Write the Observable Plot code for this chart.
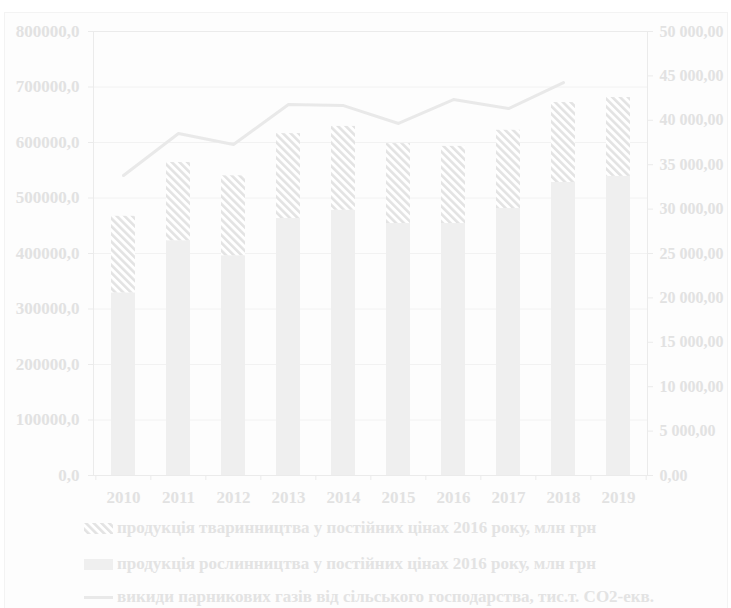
<!DOCTYPE html>
<html><head><meta charset="utf-8">
<script src="https://cdn.jsdelivr.net/npm/d3@7"></script>
<script src="https://cdn.jsdelivr.net/npm/@observablehq/plot@0.6"></script>
<style>
body{margin:0;background:#fff;}
#wrap{position:relative;width:731px;height:608px;overflow:hidden;font-family:"Liberation Serif","Times New Roman",serif;font-weight:bold;color:#e3e3e3;}
#frame{position:absolute;left:4px;top:12px;width:722px;height:600px;border:1px solid #f3f3f3;background:#fdfdfd;}
#chart{position:absolute;left:0;top:0;}
.leg{position:absolute;left:84px;height:20px;font-size:17px;display:flex;align-items:center;white-space:nowrap;}
.sw{width:29px;height:11px;margin-right:4px;}
</style>
</head><body>
<div id="wrap"><div id="frame"></div><div id="chart"></div><div id="legend"></div></div>
<script>
const years = ["2010","2011","2012","2013","2014","2015","2016","2017","2018","2019"];
const plant = [329000,423000,396000,463000,478000,454000,454000,481000,528000,539000];
const animal = [138000,141000,144000,153000,151000,144000,139000,141000,144000,142000];
const emissions = [33780,38510,37270,41770,41660,39640,42340,41320,44250,null];
const leftTicks = [0,100000,200000,300000,400000,500000,600000,700000,800000];
const rightTicks = [0,5000,10000,15000,20000,25000,30000,35000,40000,45000,50000];
const legendLabels = [
  "продукція тваринництва у постійних цінах 2016 року, млн грн",
  "продукція рослинництва у постійних цінах 2016 року, млн грн",
  "викиди парникових газів від сільського господарства, тис.т. CO2-екв."
];

const K = 800000/50000;
const data = years.map((y,i)=>({year:y, plant:plant[i], animal:animal[i], emis:emissions[i]}));
const loc = d3.formatLocale({decimal:",", thousands:"\u00a0", grouping:[3], currency:["",""]});
const fL = loc.format(".1f"), fR = loc.format(",.2f");

const W=731, mL=93, mR=84, mT=31, H=520, mB=45;
const step = (W-mL-mR)/years.length;
const tickLen = 5*800000/(H-mT-mB);

const txt = "#e2e2e2", ax = "#ebebeb";
const plot = Plot.plot({
  width:W, height:H, marginLeft:mL, marginRight:mR, marginTop:mT, marginBottom:mB,
  style:{background:"transparent", color:txt, fontFamily:"'Liberation Serif', serif", fontWeight:"bold", fontSize:"17px", overflow:"visible"},
  x:{domain:years, paddingInner:0.567, paddingOuter:0.283, label:null},
  y:{domain:[0,800000], label:null},
  marks:[
    Plot.gridY({ticks:leftTicks, stroke:"#f2f2f2", strokeOpacity:1}),
    Plot.barY(data,{x:"year", y1:0, y2:"plant", fill:"#efefef"}),
    Plot.barY(data,{x:"year", y1:"plant", y2:d=>d.plant+d.animal, fill:"url(#hatch)"}),
    Plot.line(data.filter(d=>d.emis!=null),{x:"year", y:d=>d.emis*K, stroke:"#e9e9e9", strokeWidth:3}),
    Plot.ruleX(years,{x:d=>d, dx:-step/2, y1:0, y2:-tickLen, stroke:ax}),
    Plot.ruleX([years[years.length-1]],{x:d=>d, dx:step/2, y1:0, y2:-tickLen, stroke:ax}),
    Plot.frame({stroke:ax}),
    Plot.axisY({anchor:"left", ticks:leftTicks, tickFormat:fL, tickSize:5, tickPadding:9, stroke:ax, fill:txt, fontSize:17, label:null}),
    Plot.axisY({anchor:"right", ticks:rightTicks.map(v=>v*K), tickFormat:d=>fR(d/K), tickSize:5, tickPadding:7, stroke:ax, fill:txt, fontSize:16, label:null}),
    Plot.axisX({tickSize:0, tickPadding:15, fill:txt, fontSize:17, label:null})
  ]
});
const ns="http://www.w3.org/2000/svg";
const defs=document.createElementNS(ns,"defs");
defs.innerHTML='<pattern id="hatch" patternUnits="userSpaceOnUse" width="5.5" height="5.5" patternTransform="rotate(-45)"><rect width="5.5" height="5.5" fill="#ffffff"/><rect width="2.6" height="5.5" fill="#e3e3e3"/></pattern>';
plot.insertBefore(defs, plot.firstChild);
document.getElementById("chart").appendChild(plot);

const leg = document.getElementById("legend");
const sw = [
  '<svg class="sw" width="29" height="11"><rect width="29" height="11" fill="url(#hatch)"/></svg>',
  '<svg class="sw" width="29" height="11"><rect width="29" height="11" fill="#efefef"/></svg>',
  '<svg class="sw" width="29" height="11"><line x1="0" x2="29" y1="5.5" y2="5.5" stroke="#e9e9e9" stroke-width="3"/></svg>'
];
const rowY=[518,554,587];
legendLabels.forEach((t,i)=>{
  const d=document.createElement("div");
  d.className="leg"; d.style.top=rowY[i]+"px";
  d.innerHTML=sw[i]+'<span>'+t+'</span>';
  leg.appendChild(d);
});
</script>
</body></html>
